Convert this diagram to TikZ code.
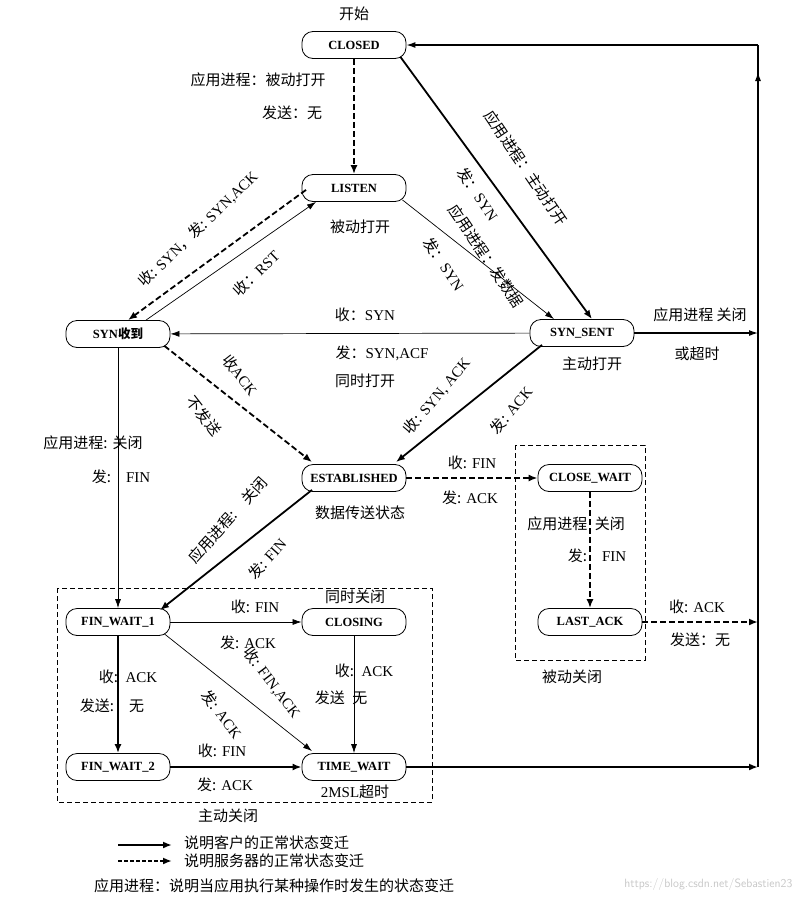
\documentclass[tikz,border=0pt]{standalone}
\usepackage{fontspec}
\setmainfont{Liberation Serif}
\newfontfamily\cj{Noto Sans CJK SC}
\usetikzlibrary{arrows.meta}
\newcommand{\C}[1]{{\cj #1}}
\tikzset{
 st/.style={draw,rounded corners=11pt,minimum width=104pt,minimum height=27pt,inner sep=1pt,font=\fontsize{12.5}{12}\selectfont\bfseries,line width=0.8pt},
 lb/.style={font=\fontsize{15}{17}\selectfont,inner sep=1pt},
 thk/.style={line width=1.8pt,-{Latex[length=9pt,width=7pt]}},
 thn/.style={line width=0.7pt,-{Latex[length=9pt,width=6pt]}},
 dsh/.style={line width=1.8pt,dash pattern=on 6pt off 3pt,-{Latex[length=9pt,width=7pt]}},
 box/.style={draw,dash pattern=on 5pt off 3pt,line width=0.7pt}
}
\begin{document}
\begin{tikzpicture}[x=1pt,y=-1pt]
\useasboundingbox (0,0) rectangle (798,900);
\node[st] (closed) at (354,45) {CLOSED};
\node[st] (listen) at (354,188) {LISTEN};
\node[st] (synr) at (118,334) {SYN\C{收到}};
\node[st] (syns) at (582,333) {SYN\_SENT};
\node[st] (est) at (354,478) {ESTABLISHED};
\node[st] (cw) at (590,478) {CLOSE\_WAIT};
\node[st] (fw1) at (118,622) {FIN\_WAIT\_1};
\node[st] (cl) at (354,622) {CLOSING};
\node[st] (la) at (590,622) {LAST\_ACK};
\node[st] (fw2) at (118,767) {FIN\_WAIT\_2};
\node[st] (tw) at (354,767) {TIME\_WAIT};
\coordinate (r0) at (758,45);
\coordinate (r1) at (758,333);
\coordinate (r2) at (758,622);
\coordinate (r3) at (758,767);
\coordinate (rt) at (758,72);
\draw[box] (515,445) rectangle (645,660);
\draw[box] (57,588) rectangle (432,802);
% edges
\draw[dsh] (closed) -- (listen);
\draw[thk] (closed.south east) ++(-6,-2) -- ([xshift=10pt]syns.north);
\draw[thn] (listen.south east) ++(-4,-2) -- ([xshift=-28pt]syns.north);
\draw[dsh] ([xshift=-48pt]listen.south) ++(0,-12) -- ([xshift=10pt]synr.north);
\draw[thn] ([xshift=28pt]synr.north) -- ([xshift=-38pt]listen.south);
\draw[thn] (syns) -- (synr);
\draw[dsh] (synr.south east) ++(-6,-2) -- ([xshift=-42pt,yshift=2pt]est.north);
\draw[thk] ([xshift=-40pt]syns.south) ++(0,-2) -- ([xshift=42pt,yshift=2pt]est.north);
\draw[thn] (synr) -- (fw1);
\draw[dsh] (est) -- (cw);
\draw[thk] ([xshift=-42pt]est.south) ++(0,-2) -- ([xshift=42pt,yshift=-2pt]fw1.north);
\draw[dsh] (cw) -- (la);
\draw[dsh] (la) -- (r2);
\draw[thn] (fw1) -- (cl);
\draw[thk] (fw1) -- (fw2);
\draw[thn] (fw1.south east) ++(-6,-2) -- ([xshift=-42pt,yshift=2pt]tw.north);
\draw[thn] (cl) -- (tw);
\draw[thk] (fw2) -- (tw);
\draw[thk] (tw) -- (r3);
\draw[line width=1.2pt] (r3) -- (r0);
\draw[line width=1.2pt,-{Latex[length=9pt,width=6pt]}] (r1) -- (rt);
\draw[thn,line width=1.2pt] (r0) -- (closed);
\draw[thn,line width=1.2pt] (syns) -- (r1);
% labels
\node[lb] at (354,14) {\C{开始}};
\node[lb] at (258,80) {\C{应用进程：被动打开}};
\node[lb] at (292,113) {\C{发送：无}};
\node[lb,rotate=-56] at (526,168) {\C{应用进程：主动打开}};
\node[lb,rotate=-56] at (478,194) {\C{发：}SYN};
\node[lb,rotate=-56] at (486,256) {\C{应用进程：发数据}};
\node[lb,rotate=-56] at (444,264) {\C{发：}SYN};
\node[lb] at (360,227) {\C{被动打开}};
\node[lb,rotate=44] at (198,229) {\C{收:} SYN\C{，发:} SYN,ACK};
\node[lb,rotate=44] at (256,273) {\C{收：}RST};
\node[lb] at (365,315) {\C{收：}SYN};
\node[lb] at (382,353) {\C{发：}SYN,ACF};
\node[lb] at (365,381) {\C{同时打开}};
\node[lb] at (592,364) {\C{主动打开}};
\node[lb] at (700,315) {\C{应用进程 关闭}};
\node[lb] at (697,354) {\C{或超时}};
\node[lb,rotate=-52] at (240,375) {\C{收}ACK};
\node[lb,rotate=-52] at (204,416) {\C{不发送}};
\node[lb,rotate=50] at (437,396) {\C{收:} SYN, ACK};
\node[lb,rotate=50] at (511,410) {\C{发:} ACK};
\node[lb] at (93,443) {\C{应用进程:} \C{关闭}};
\node[lb] at (121,477) {\C{发:}\quad FIN};
\node[lb] at (472,463) {\C{收:} FIN};
\node[lb] at (470,498) {\C{发:} ACK};
\node[lb] at (360,513) {\C{数据传送状态}};
\node[lb,rotate=48] at (228,520) {\C{应用进程:}\quad\C{关闭}};
\node[lb,rotate=48] at (267,559) {\C{发:} FIN};
\node[lb] at (576,524) {\C{应用进程}\ \ \C{关闭}};
\node[lb] at (597,556) {\C{发:}\quad FIN};
\node[lb] at (697,607) {\C{收:} ACK};
\node[lb] at (700,640) {\C{发送：无}};
\node[lb] at (572,677) {\C{被动关闭}};
\node[lb] at (255,607) {\C{收:} FIN};
\node[lb] at (248,643) {\C{发:} ACK};
\node[lb] at (355,597) {\C{同时关闭}};
\node[lb] at (128,677) {\C{收:}\ \ ACK};
\node[lb] at (112,706) {\C{发送:}\quad\C{无}};
\node[lb,rotate=-53] at (272,683) {\C{收:} FIN,ACK};
\node[lb,rotate=-53] at (222,714) {\C{发:} ACK};
\node[lb] at (364,671) {\C{收:}\ \ ACK};
\node[lb] at (341,698) {\C{发送}\ \ \C{无}};
\node[lb] at (222,751) {\C{收:} FIN};
\node[lb] at (225,785) {\C{发:} ACK};
\node[lb] at (355,792) {2MSL\C{超时}};
\node[lb] at (228,816) {\C{主动关闭}};
% legend
\coordinate (l1a) at (118,845); \coordinate (l1b) at (172,845);
\coordinate (l2a) at (118,861); \coordinate (l2b) at (172,861);
\draw[thk] (l1a) -- (l1b);
\draw[dsh,dash pattern=on 4pt off 2pt] (l2a) -- (l2b);
\node[lb,anchor=west] at (183,843) {\C{说明客户的正常状态变迁}};
\node[lb,anchor=west] at (183,861) {\C{说明服务器的正常状态变迁}};
\node[lb,anchor=west] at (93,886) {\C{应用进程：说明当应用执行某种操作时发生的状态变迁}};
\node[font=\fontsize{12}{12}\selectfont\sffamily,text=black!22,anchor=east] at (796,884) {https://blog.csdn.net/Sebastien23};
\end{tikzpicture}
\end{document}
